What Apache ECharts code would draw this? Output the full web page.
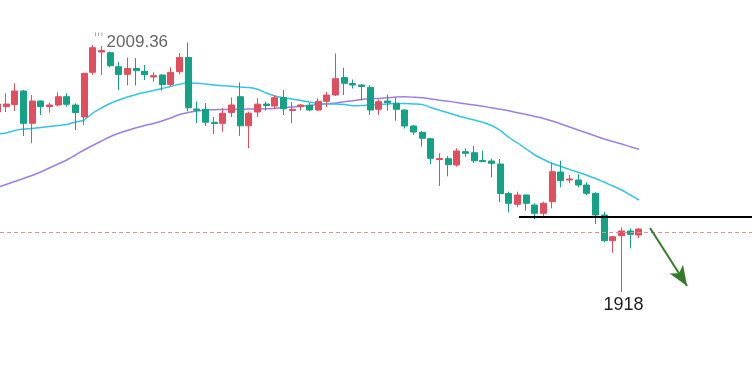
<!DOCTYPE html>
<html>
<head>
<meta charset="utf-8">
<script src="https://cdn.jsdelivr.net/npm/echarts@6/dist/echarts.min.js"></script>
<style>
html,body{margin:0;padding:0;background:#fff;}
#chart{width:752px;height:379px;}
</style>
</head>
<body>
<div id="chart"></div>
<script>
// ---- data ----
// 75 visible trading days + empty slots on the right
const categories = Array.from({length: 88}, (_, i) => 'D' + (i + 1));

// candles: [open, close, low, high]
const candles = [
  [1984.60,1987.56,1982.38,1989.04],
  [1986.56,1987.56,1984.60,1991.52],
  [1987.38,1992.37,1984.97,1995.22],
  [1992.37,1980.42,1975.72,1992.74],
  [1980.42,1988.67,1973.02,1990.89],
  [1988.67,1986.56,1983.49,1988.86],
  [1986.56,1987.19,1984.34,1988.19],
  [1987.19,1990.26,1986.56,1991.89],
  [1990.26,1987.45,1986.56,1991.52],
  [1987.19,1984.34,1977.94,1987.82],
  [1982.75,1998.92,1979.79,1999.03],
  [1999.29,2008.39,1998.29,2009.36],
  [2006.80,2007.36,1998.29,2009.02],
  [2006.54,2001.73,2001.25,2006.99],
  [2001.36,1998.48,1992.74,2003.10],
  [1998.55,2000.70,1994.41,2004.77],
  [2000.70,1999.88,1994.41,2004.58],
  [1999.66,1998.40,1996.44,2001.99],
  [1997.55,1998.03,1995.81,1999.29],
  [1998.29,1994.70,1992.48,1998.66],
  [1994.78,1999.29,1994.22,2001.14],
  [1999.51,2004.77,1998.48,2006.43],
  [2004.77,1986.15,1984.86,2010.32],
  [1985.71,1985.23,1980.42,1988.49],
  [1985.60,1980.83,1979.42,1987.93],
  [1980.79,1980.35,1976.46,1982.75],
  [1980.42,1984.12,1977.31,1986.08],
  [1984.42,1987.19,1982.75,1989.97],
  [1990.26,1979.49,1975.79,1995.52],
  [1979.49,1984.12,1971.17,1984.71],
  [1984.60,1987.49,1982.75,1989.67],
  [1987.56,1987.01,1985.16,1988.41],
  [1986.82,1989.89,1985.64,1990.89],
  [1989.89,1985.78,1983.49,1992.74],
  [1985.16,1985.60,1980.42,1988.30],
  [1986.64,1987.19,1985.16,1987.56],
  [1987.08,1985.34,1984.86,1987.93],
  [1985.34,1988.56,1984.97,1989.67],
  [1988.56,1990.89,1986.38,1992.11],
  [1990.89,1996.92,1990.52,2006.25],
  [1997.37,1995.22,1990.89,2000.95],
  [1995.15,1994.59,1993.30,1996.63],
  [1994.59,1994.04,1988.86,1994.96],
  [1993.74,1985.34,1983.49,1994.59],
  [1985.60,1988.41,1983.49,1989.30],
  [1988.67,1988.04,1985.08,1991.08],
  [1987.82,1985.60,1981.38,1989.89],
  [1985.34,1979.42,1978.50,1985.53],
  [1979.42,1977.20,1976.09,1979.79],
  [1977.09,1974.87,1971.84,1977.57],
  [1974.72,1967.47,1965.36,1975.09],
  [1967.03,1967.40,1957.22,1969.32],
  [1967.32,1965.10,1960.81,1968.32],
  [1964.99,1970.17,1964.36,1971.17],
  [1969.91,1969.32,1968.06,1971.17],
  [1969.54,1966.54,1965.73,1972.02],
  [1966.66,1966.21,1966.10,1970.28],
  [1966.47,1965.62,1960.37,1967.40],
  [1965.36,1954.45,1951.30,1967.21],
  [1954.45,1950.82,1947.49,1955.11],
  [1950.45,1953.89,1949.34,1955.11],
  [1953.89,1950.82,1948.08,1954.08],
  [1950.19,1947.12,1945.01,1950.82],
  [1947.12,1950.82,1945.86,1951.41],
  [1951.41,1962.51,1948.97,1965.84],
  [1962.40,1959.18,1956.74,1966.58],
  [1959.44,1959.81,1958.22,1961.29],
  [1959.44,1957.59,1956.74,1961.55],
  [1957.59,1954.52,1953.89,1958.59],
  [1954.52,1946.49,1943.16,1954.89],
  [1946.49,1936.98,1936.39,1947.71],
  [1936.98,1938.46,1932.54,1938.54],
  [1938.83,1940.57,1918.00,1941.94],
  [1940.57,1939.35,1934.17,1941.57],
  [1939.09,1941.31,1937.98,1941.57]
];

// short moving average (cyan)
const maShort = [1976.46,1976.83,1977.76,1978.31,1978.50,1978.87,1979.24,1979.61,1979.98,1980.90,
  1981.64,1984.23,1986.08,1987.75,1989.04,1990.15,1991.08,1991.82,1992.56,1993.30,
  1994.04,1994.85,1995.33,1995.26,1994.96,1994.59,1994.33,1994.11,1993.85,1993.63,
  1993.00,1991.63,1990.52,1989.89,1989.41,1988.86,1988.30,1987.71,1987.56,1987.56,
  1987.38,1986.89,1987.01,1987.26,1987.41,1987.56,1987.75,1987.75,1987.56,1987.38,
  1986.27,1985.27,1984.30,1983.31,1982.45,1981.64,1980.83,1979.61,1977.76,1975.17,
  1973.13,1970.91,1968.69,1967.03,1965.55,1964.44,1963.33,1962.29,1961.18,1960.00,
  1958.59,1957.22,1955.74,1953.89,1952.04];

// long moving average (purple)
const maLong = [1956.67,1957.78,1958.89,1960.00,1961.11,1962.40,1963.88,1965.36,1966.84,1968.69,
  1970.54,1972.21,1973.87,1975.46,1976.72,1977.76,1978.75,1979.61,1980.35,1981.27,
  1982.38,1983.68,1984.42,1984.97,1985.34,1985.45,1985.53,1985.60,1985.64,1985.67,
  1985.71,1985.78,1985.97,1986.19,1986.45,1986.71,1987.01,1987.38,1987.67,1987.93,
  1988.37,1988.74,1989.23,1989.48,1989.63,1989.85,1990.15,1990.22,1990.08,1989.85,
  1989.41,1988.97,1988.56,1988.12,1987.63,1987.19,1986.71,1986.15,1985.64,1985.04,
  1984.34,1983.68,1982.94,1982.20,1981.27,1980.16,1979.05,1977.94,1976.83,1975.72,
  1974.61,1973.69,1972.76,1971.72,1970.80];

const highLabel = { index: 11, value: 2009.36, text: '2009.36' };
const lowLabel = { index: 72, value: 1918, text: '1918' };
const lastPrice = 1940.09;
const supportLine = { from: 60.17, to: 87.04, value: 1945.75 };
const arrow = { from: [75.28, 1941.68], to: [79.55, 1920.22] };

// ---- chart ----
const chart = echarts.init(document.getElementById('chart'), null, {renderer: 'canvas'});
const UP = '#e14f5f', DOWN = '#12a386';
chart.setOption({
  animation: false,
  backgroundColor: '#ffffff',
  grid: { left: -7, top: 0, width: 763, height: 379, containLabel: false, outerBoundsMode: 'none' },
  xAxis: [
    { type: 'category', data: categories, boundaryGap: true, show: false },
    { type: 'value', min: -0.5, max: 87.5, show: false, gridIndex: 0 }
  ],
  yAxis: { type: 'value', min: 1885.81, max: 2026.04, show: false, scale: true },
  series: [
    {
      type: 'line', data: maLong, showSymbol: false, symbol: 'none', smooth: 0.3,
      lineStyle: { color: '#9c7fe3', width: 1.5 }, z: 2
    },
    {
      type: 'line', data: maShort, showSymbol: false, symbol: 'none', smooth: 0.3,
      lineStyle: { color: '#33c4e5', width: 1.5 }, z: 2
    },
    {
      type: 'candlestick', data: candles, barWidth: 6.5, z: 3,
      itemStyle: { color: UP, color0: DOWN, borderColor: UP, borderColor0: DOWN, borderWidth: 1 },
      markPoint: {
        symbol: 'circle', symbolSize: 0, animation: false,
        data: [
          {
            coord: [highLabel.index, highLabel.value],
            label: {
              show: true, position: 'right', distance: 0, offset: [1, -3],
              formatter: '{d|\u02C8\u02C8\u02C8}{v|' + highLabel.text + '}',
              rich: {
                d: { fontSize: 12, color: '#8a8a8a', fontFamily: 'DejaVu Sans', verticalAlign: 'top', padding: [0, 3, 7, 0] },
                v: { fontSize: 17, color: '#666666', fontFamily: 'Liberation Sans' }
              }
            }
          },
          {
            coord: [lowLabel.index, lowLabel.value],
            label: {
              show: true, position: 'bottom', distance: 4, formatter: lowLabel.text,
              fontSize: 18, color: '#222', fontFamily: 'Liberation Sans', offset: [2, 0]
            }
          }
        ]
      }
    },
    {
      type: 'line', xAxisIndex: 1, data: [], z: 4,
      markLine: {
        silent: true, animation: false,
        label: { show: false },
        data: [
          [
            { coord: [supportLine.from, supportLine.value], symbol: 'none', lineStyle: { color: '#000', width: 2, type: 'solid' } },
            { coord: [supportLine.to, supportLine.value], symbol: 'none' }
          ],
          [
            { coord: [-0.5, lastPrice], symbol: 'none', lineStyle: { color: '#f28c8c', width: 1, type: [4, 3] } },
            { coord: [87.5, lastPrice], symbol: 'none' }
          ],
          [
            { coord: arrow.from, symbol: 'none', lineStyle: { color: '#357a2a', width: 2, type: 'solid' } },
            { coord: arrow.to, symbol: 'arrow', symbolSize: [12, 20] }
          ]
        ]
      }
    }
  ]
});
</script>
</body>
</html>
